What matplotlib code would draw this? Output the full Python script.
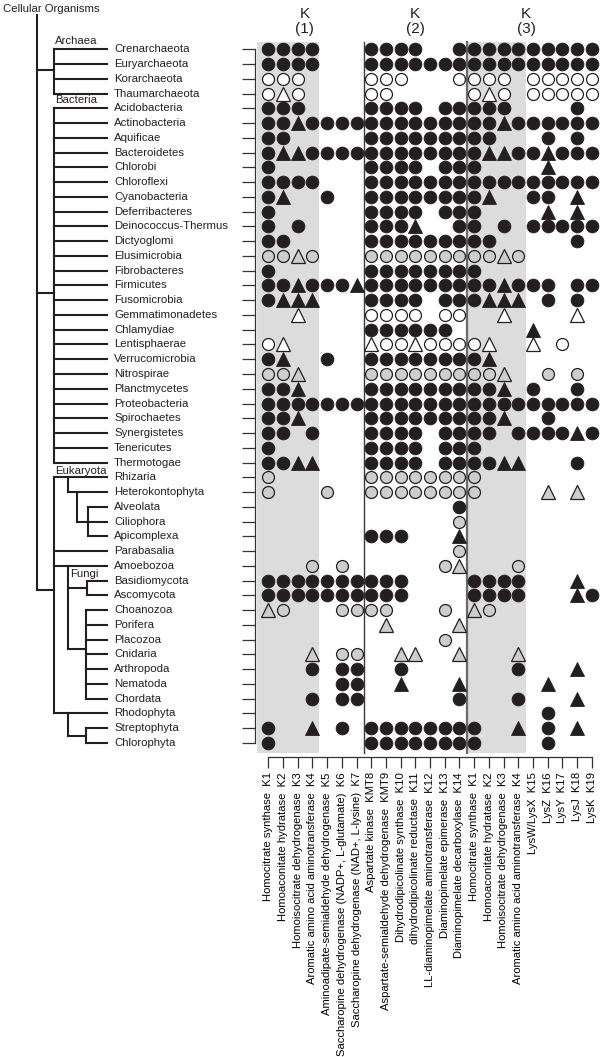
import matplotlib
matplotlib.use("Agg")
import matplotlib.pyplot as plt
from matplotlib.patches import Rectangle

plt.rcParams['font.family'] = ['Liberation Sans', 'DejaVu Sans']

# ---------------- data ----------------
taxa = ["Crenarchaeota", "Euryarchaeota", "Korarchaeota", "Thaumarchaeota",
        "Acidobacteria", "Actinobacteria", "Aquificae", "Bacteroidetes", "Chlorobi",
        "Chloroflexi", "Cyanobacteria", "Deferribacteres", "Deinococcus-Thermus",
        "Dictyoglomi", "Elusimicrobia", "Fibrobacteres", "Firmicutes", "Fusomicrobia",
        "Gemmatimonadetes", "Chlamydiae", "Lentisphaerae", "Verrucomicrobia",
        "Nitrospirae", "Planctmycetes", "Proteobacteria", "Spirochaetes",
        "Synergistetes", "Tenericutes", "Thermotogae",
        "Rhizaria", "Heterokontophyta", "Alveolata", "Ciliophora", "Apicomplexa",
        "Parabasalia", "Amoebozoa", "Basidiomycota", "Ascomycota", "Choanozoa",
        "Porifera", "Placozoa", "Cnidaria", "Arthropoda", "Nematoda", "Chordata",
        "Rhodophyta", "Streptophyta", "Chlorophyta"]

col_labels = ["Homocitrate synthase  K1", "Homoaconitate hydratase  K2",
              "Homoisocitrate dehydrogenase  K3", "Aromatic amino acid aminotransferase  K4",
              "Aminoadipate-semialdehyde dehydrogenase  K5",
              "Saccharopine dehydrogenase (NADP+, L-glutamate)  K6",
              "Saccharopine dehydrogenase (NAD+, L-lysine)  K7",
              "Aspartate kinase  KMT8", "Aspartate-semialdehyde dehydrogenase  KMT9",
              "Dihydrodipicolinate synthase  K10", "dihydrodipicolinate reductase  K11",
              "LL-diaminopimelate aminotransferase  K12", "Diaminopimelate epimerase  K13",
              "Diaminopimelate decarboxylase  K14",
              "Homocitrate synthase  K1", "Homoaconitate hydratase  K2",
              "Homoisocitrate dehydrogenase  K3", "Aromatic amino acid aminotransferase  K4",
              "LysW/LysX  K15", "LysZ  K16", "LysY  K17", "LysJ  K18", "LysK  K19"]

group_titles = ["K\n(1)", "K\n(2)", "K\n(3)"]

# symbol codes: B black circle, W open circle, G grey circle,
#               T black triangle, w open triangle, g grey triangle, . none
group1 = ["BBBB...", "BBBB...", "WWW....", "WwW....", "BBB....", "BBTBBBB", "BB.....",
          "BTTBBBB", "B......", "BBBB...", "BT..B..", "B......", "B.B....", "BB.....",
          "GGgG...", "B......", "BBTBBBT", "BTTT...", "..w....", ".......", "Ww.....",
          "BT..B..", "GGg....", "BBT....", "BBBBBBB", "BBT....", "BB.B...", "B......",
          "BBTT...", "G......", "G...G..", ".......", ".......", ".......", ".......",
          "...G.G.", "BBBBBBB", "BBBBBBB", "gG...GG", ".......", ".......", "...g.GG",
          "...B.BB", ".....BB", "...B.BB", ".......", "B..T.B.", "B......"]

group2 = ["BBBB..B", "BBBBBBB", "WWW...W", "WW.....", "BBBB.BB", "BBBBBBB", "BBBBBBB",
          "BBBBBBB", "BBBB.BB", "BBBBBBB", "BBBBBBB", "BBBB.BB", "BBBT..B", "BBBBBBB",
          "GGGGGGG", "BBBBBBB", "BBBBBBB", "BBBB.BB", "WWWW.WW", "BBBBBB.", "wWWwWWW",
          "BBBBBBB", "GGGGGGG", "BBBBBBB", "BBBBBBB", "BBBBBBB", "BBBB.BB", "BBBB.BB",
          "BBBB.BB", "GGGGGGG", "GGGGGGG", "......B", "......G", "BBB...T", "......G",
          ".....Gg", "BBB....", "BBB....", "GG...G.", ".g....g", ".....G.", "..gg..g",
          "..B....", "..T...T", "......B", ".......", "BBBBBBB", "BBBBBBB"]

group3 = ["BBBBBBBBB", "BBBBBBBBB", "WWW.WWWWW", "WwW.WWWWW", "BBB....B.", "BBTBBBBBB",
          "BB...B.B.", "BTTBBTBBB", "B....T...", "BBBBBBBBB", "BT..BB.T.", "B....T.T.",
          "B.B.BBBBB", "BB.....B.", "GGgG.....", "B........", "BBTBBB.BB", "BTTT.B.B.",
          "..w....w.", "....T....", "Ww..w.W..", "BT.......", "GGg..G.G.", "BBT.B..B.",
          "BBBBBBBBB", "BBT..B...", "BB.BBBBTB", "B........", "BBTT...B.", "G........",
          "G....g.g.", ".........", ".........", ".........", ".........", "...G.....",
          "BBBB...T.", "BBBB...TB", "gG.......", ".........", ".........", "...g.....",
          "...B...T.", ".....T...", "...B...T.", ".....B...", "B..T.B.T.", "B....B..."]

# ---------------- layout ----------------
W, H = 600, 1057
fig = plt.figure(figsize=(W / 100, H / 100), dpi=100)

col0_px, col_step = 268.3, 14.7
row0_px, row_step = 49.3, 14.76
left_px, bottom_px = 255, 757


def prow(py):
    return (py - row0_px) / row_step


ylim = (prow(bottom_px), prow(0))
ax = fig.add_axes([left_px / W, 1 - bottom_px / H, (W - left_px) / W, bottom_px / H])
ax.set_xlim((left_px - col0_px) / col_step, (W - col0_px) / col_step)
ax.set_ylim(*ylim)

BLACK = '#231f20'
GREYF = '#cdcdcd'
SHADE = '#dcdcdc'

# shaded groups and separators
ax.add_patch(Rectangle((-0.79, -0.49), 4.24, 48.17, facecolor=SHADE, edgecolor='none', zorder=0))
ax.add_patch(Rectangle((13.5, -0.49), 4.03, 48.17, facecolor=SHADE, edgecolor='none', zorder=0))
ax.plot([6.5, 6.5], [-0.49, 47.68], color='#3a3a3a', lw=1.0, zorder=1)
ax.plot([13.5, 13.5], [-0.49, 47.68], color='#6a6a6a', lw=1.6, zorder=1)

styles = {
    'B': dict(marker='o', ms=9.2, mfc=BLACK, mec=BLACK, mew=0.6),
    'W': dict(marker='o', ms=8.6, mfc='white', mec=BLACK, mew=0.9),
    'G': dict(marker='o', ms=8.6, mfc=GREYF, mec=BLACK, mew=0.9),
    'T': dict(marker='^', ms=10.0, mfc=BLACK, mec=BLACK, mew=0.6),
    'w': dict(marker='^', ms=9.6, mfc='white', mec=BLACK, mew=0.9),
    'g': dict(marker='^', ms=9.6, mfc=GREYF, mec=BLACK, mew=0.9),
}

rows_full = [a + b + c for a, b, c in zip(group1, group2, group3)]
for code, st in styles.items():
    xs, ys = [], []
    for r, s in enumerate(rows_full):
        for c, ch in enumerate(s):
            if ch == code:
                xs.append(c)
                ys.append(r)
    ax.plot(xs, ys, linestyle='none', zorder=3, **st)

# axes decoration
for sp in ['top', 'right']:
    ax.spines[sp].set_visible(False)
ax.spines['left'].set_bounds(0, len(taxa) - 1)
ax.spines['bottom'].set_bounds(0, len(col_labels) - 1)
for sp in ['left', 'bottom']:
    ax.spines[sp].set_color('#333333')
    ax.spines[sp].set_linewidth(0.9)
ax.set_yticks(range(len(taxa)))
ax.set_yticklabels([])
ax.set_xticks(range(len(col_labels)))
ax.set_xticklabels(col_labels, rotation=90, fontsize=8.1)
ax.tick_params(axis='y', direction='out', length=9.4, width=0.9, color='#333333')
ax.tick_params(axis='x', direction='out', length=8, width=0.9, color='#333333', pad=3)
ax.set_facecolor('none')

title_cols = [2.46, 9.98, 17.55]
for t, xc in zip(group_titles, title_cols):
    k, n = t.split('\n')
    ax.text(xc, prow(14), k, ha='center', va='center', fontsize=11, color=BLACK, clip_on=False)
    ax.text(xc, prow(29.5), n, ha='center', va='center', fontsize=11, color=BLACK, clip_on=False)

# ---------------- tree ----------------
tx = fig.add_axes([0, 1 - bottom_px / H, left_px / W, bottom_px / H])
tx.set_xlim(0, left_px)
tx.set_ylim(*ylim)
tx.axis('off')

idx = {n: i for i, n in enumerate(taxa)}
X_ROOT, X_DOM, X_N2, X_N3, X_BR, X_LEAF = 36.7, 54.3, 67.7, 76.7, 87.0, 106.7
X_SAR = 88.3

leaf_parent = {}
for n in taxa[0:29]:
    leaf_parent[n] = X_DOM
for n in ["Rhizaria", "Parabasalia", "Amoebozoa", "Rhodophyta"]:
    leaf_parent[n] = X_DOM
leaf_parent["Heterokontophyta"] = X_N2
for n in ["Alveolata", "Ciliophora", "Apicomplexa"]:
    leaf_parent[n] = X_SAR
for n in ["Basidiomycota", "Ascomycota"]:
    leaf_parent[n] = X_BR
for n in ["Choanozoa", "Porifera", "Placozoa", "Cnidaria", "Arthropoda", "Nematoda",
          "Chordata", "Streptophyta", "Chlorophyta"]:
    leaf_parent[n] = X_BR - 1

LW = 1.5
kw = dict(color=BLACK, lw=LW, solid_capstyle='projecting')


def hline(r, x0, x1):
    tx.plot([x0, x1], [r, r], **kw)


def vline(x, r0, r1):
    tx.plot([x, x], [r0, r1], **kw)


for n in taxa:
    hline(idx[n], leaf_parent[n], X_LEAF)
    tx.text(114, idx[n], n, ha='left', va='center', fontsize=8.2, color=BLACK)

# root and domains
r_arch, r_bact, r_euk = 1.4, 16.5, 36.6
vline(X_ROOT, prow(15), r_euk)
for r in (r_arch, r_bact, r_euk):
    hline(r, X_ROOT, X_DOM)
vline(X_DOM, idx["Crenarchaeota"], idx["Thaumarchaeota"])
vline(X_DOM, idx["Acidobacteria"], idx["Thermotogae"])
vline(X_DOM, idx["Rhizaria"], idx["Rhodophyta"])
# SAR
vline(X_N2, idx["Rhizaria"], idx["Heterokontophyta"])
vline(X_N3, idx["Heterokontophyta"], idx["Ciliophora"])
hline(idx["Ciliophora"], X_N3, X_SAR)
vline(X_SAR, idx["Alveolata"], idx["Apicomplexa"])
# Opisthokonta
r_anim = 40.6
vline(X_N2, idx["Amoebozoa"], r_anim)
hline(36.5, X_N2, X_BR)
vline(X_BR, idx["Basidiomycota"], idx["Ascomycota"])
hline(r_anim, X_N2, X_BR - 1)
vline(X_BR - 1, idx["Choanozoa"], idx["Chordata"])
# plants
vline(X_N2, idx["Rhodophyta"], 46.5)
hline(46.5, X_N2, X_BR - 1)
vline(X_BR - 1, idx["Streptophyta"], idx["Chlorophyta"])

tx.text(3, prow(9), "Cellular Organisms", ha='left', va='center', fontsize=8.2, color=BLACK)
tx.text(55, prow(40.7), "Archaea", ha='left', va='center', fontsize=8.2, color=BLACK)
tx.text(55, prow(100), "Bacteria", ha='left', va='center', fontsize=8.2, color=BLACK)
tx.text(55, prow(471), "Eukaryota", ha='left', va='center', fontsize=8.2, color=BLACK)
tx.text(70, prow(574), "Fungi", ha='left', va='center', fontsize=8.2, color=BLACK)

fig.savefig("out.png", dpi=100)
